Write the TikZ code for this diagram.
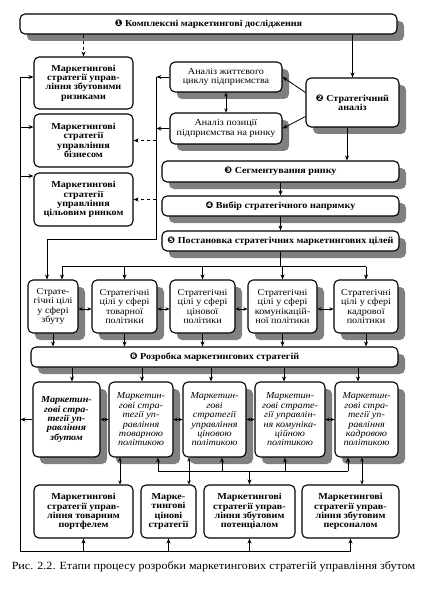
\documentclass[tikz,border=0pt]{standalone}
\usepackage{fontspec}
\setmainfont{Liberation Serif}[FakeStretch=1.1]
\newfontfamily\dejavu{DejaVu Sans}
\usetikzlibrary{arrows.meta,shadows,calc}
\newcommand\cn[1]{{\dejavu\bfseries #1}}
\begin{document}
\begin{tikzpicture}[x=1pt,y=-1pt,
  box/.style={draw, line width=1.1pt, rounded corners=5pt, fill=white, align=center, inner sep=0pt},
  sh/.style={drop shadow={shadow xshift=7pt, shadow yshift=-7pt, fill=black!50, opacity=1}},
  bt/.style={font=\fontsize{9.2}{9.4}\selectfont\bfseries},
  rt/.style={font=\fontsize{9.2}{9.4}\selectfont},
  itx/.style={font=\fontsize{9.2}{9.4}\selectfont\itshape},
  bitx/.style={font=\fontsize{9.2}{9.4}\selectfont\bfseries\itshape},
  sz/.style 2 args={minimum width=#1pt, minimum height=#2pt},
  arr/.style={line width=0.8pt, -{Stealth[length=5pt,width=4pt]}},
  darr/.style={line width=0.8pt, {Stealth[length=4pt,width=3.5pt]}-{Stealth[length=4pt,width=3.5pt]}},
  ln/.style={line width=0.8pt}]
\useasboundingbox (0,0) rectangle (420,596);

% top row
\node[box,sh,bt,sz={377}{20}] (K1) at (208.5,24) {\cn{❶} Комплексні маркетингові дослідження};
\node[box,bt,sz={99}{52}] (R1) at (83.5,83) {Маркетингові\\стратегії управ-\\ління збутовими\\ризиками};
\node[box,bt,sz={99}{53}] (R2) at (83.5,140.5) {Маркетингові\\стратегії\\управління\\бізнесом};
\node[box,bt,sz={99}{53}] (R3) at (83.5,199.5) {Маркетингові\\стратегії\\управління\\цільовим ринком};
\node[box,sh,rt,sz={112}{30}] (A1) at (226,77) {Аналіз життєвого\\циклу підприємства};
\node[box,sh,rt,sz={112}{31}] (A2) at (226,128.5) {Аналіз позиції\\підприємства на ринку};
\node[box,sh,bt,sz={93}{49}] (SA) at (352.5,102.5) {\cn{❷} Стратегічний\\аналіз};
\node[box,sh,bt,sz={237}{21}] (N3) at (280.5,171.5) {\cn{❸} Сегментування ринку};
\node[box,sh,bt,sz={237}{20}] (N4) at (280.5,206) {\cn{❹} Вибір стратегічного напрямку};
\node[box,sh,bt,sz={237}{20}] (N5) at (280.5,241) {\cn{❺} Постановка стратегічних маркетингових цілей};

% goals
\node[box,sh,rt,sz={50}{53}] (G1) at (53,306.5) {Страте-\\гічні цілі\\у сфері\\збуту};
\node[box,sh,rt,sz={65}{53}] (G2) at (124.5,306.5) {Стратегічні\\цілі у сфері\\товарної\\політики};
\node[box,sh,rt,sz={65}{53}] (G3) at (202.5,306.5) {Стратегічні\\цілі у сфері\\цінової\\політики};
\node[box,sh,rt,sz={69}{53}] (G4) at (282.5,306.5) {Стратегічні\\цілі у сфері\\комунікацій-\\ної політики};
\node[box,sh,rt,sz={64}{53}] (G5) at (366,306.5) {Стратегічні\\цілі у сфері\\кадрової\\політики};

\node[box,sh,bt,sz={367}{20}] (N6) at (214.5,357) {\cn{❻} Розробка маркетингових стратегій};

% strategies
\node[box,sh,bitx,sz={67}{75}] (S1) at (66.5,419.5) {Маркетин-\\гові стра-\\тегії уп-\\равління\\збутом};
\node[box,sh,itx,sz={64}{75}] (S2) at (141,419.5) {Маркетин-\\гові стра-\\тегії уп-\\равління\\товарною\\політикою};
\node[box,sh,itx,sz={63}{75}] (S3) at (214.5,419.5) {Маркетин-\\гові\\стратегії\\управління\\ціновою\\політикою};
\node[box,sh,itx,sz={70}{75}] (S4) at (290,419.5) {Маркетин-\\гові страте-\\гії управлін-\\ня комуніка-\\ційною\\політикою};
\node[box,sh,itx,sz={63}{75}] (S5) at (366.5,419.5) {Маркетин-\\гові стра-\\тегії уп-\\равління\\кадровою\\політикою};

% bottom
\node[box,bt,sz={99}{53}] (B1) at (83.5,511.5) {Маркетингові\\стратегії управ-\\ління товарним\\портфелем};
\node[box,bt,sz={55}{53}] (B2) at (168.5,511.5) {Марке-\\тингові\\цінові\\стратегії};
\node[box,bt,sz={91}{53}] (B3) at (249.5,511.5) {Маркетингові\\стратегії управ-\\ління збутовим\\потенціалом};
\node[box,bt,sz={97}{53}] (B4) at (350.5,511.5) {Маркетингові\\стратегії управ-\\ління збутовим\\персоналом};

\node[font=\fontsize{11}{12}\selectfont] (cap) at (213.5,567) {Рис. 2.2. Етапи процесу розробки маркетингових стратегій управління збутом};

% connectors top
\draw[arr,dashed] (R1.north |- K1.south) -- (R1.north);
\draw[arr] (SA.north |- K1.south) -- (SA.north);
\draw[arr] ($(SA.west)+(0,-10)$) -- (A1.east);
\draw[arr] ($(SA.west)+(0,14)$) -- (A2.east);
\draw[darr] (A1.south) -- (A2.north);

\coordinate (vA) at ($(A1.west)+(-13,0)$);
\draw[arr] (A1.west) -- (vA);
\draw[arr] (A2.west) -- (vA |- A2.west);
\coordinate (turn) at ($(vA)+(0,162)$);
\coordinate (g1a) at ($(G1.north)+(-6,0)$);
\draw[arr] (vA) -- (turn) -| (g1a);
\draw[arr,dashed] (vA |- R2.east) -- (R2.east);
\draw[arr,dashed] (vA |- R3.east) -- (R3.east);

% left loop
\coordinate (Lt) at ($(R1.west)+(-13,-6)$);
\coordinate (bb) at ($(B1.south)+(0,13)$);
\coordinate (Lb) at (Lt |- bb);
\draw[ln] (Lt) -- (Lb) -- (Lb -| B4.south);
\draw[arr] (Lt) -- (Lt -| R1.west);
\coordinate (r2a) at ($(R2.west)+(0,-13.5)$);
\draw[arr] (Lt |- r2a) -- (r2a);
\coordinate (r3a) at ($(R3.west)+(0,-23.5)$);
\draw[arr] (Lt |- r3a) -- (r3a);
\draw[arr] (S1.west) -- (Lt |- S1.west);
\foreach \b in {B1,B2,B3,B4} \draw[arr] (Lb -| \b.south) -- (\b.south);

% main chain
\coordinate (sa3) at ($(SA.south)+(-5.5,0)$);
\draw[arr] (sa3) -- (sa3 |- N3.north);
\draw[arr] (N3.south) -- (N4.north);
\draw[arr] (N4.south) -- (N5.north);
\coordinate (br) at ($(N5.south)+(0,15)$);
\coordinate (g1b) at ($(G1.north)+(9,0)$);
\draw[ln] (N5.south) -- (br);
\draw[ln] (g1b |- br) -- (G5.north |- br);
\foreach \g in {g1b, G2.north, G3.north, G4.north, G5.north} \draw[arr] (\g |- br) -- (\g);
\foreach \a/\b in {G1/G2,G2/G3,G3/G4,G4/G5} \draw[darr] ([yshift=-2.5pt]\a.east) -- ([yshift=-2.5pt]\b.west);
\foreach \g in {G1,G2,G3,G4,G5} \draw[arr] (\g.south) -- (\g.south |- N6.north);

% N6 to strategies
\coordinate (s1t) at ($(S1.north)+(5.5,0)$);
\coordinate (s2t) at ($(S2.north)+(1,0)$);
\coordinate (s3t) at ($(S3.north)+(-3.5,0)$);
\coordinate (s4t) at ($(S4.north)+(-6,0)$);
\coordinate (s5t) at ($(S5.north)+(-8.5,0)$);
\foreach \s in {s1t,s2t,s3t,s4t,s5t} \draw[arr] (\s |- N6.south) -- (\s);
\foreach \a/\b in {S1/S2,S2/S3,S3/S4,S4/S5} \draw[darr] (\a.east) -- (\b.west);

% strategies to bottom
\coordinate (d1) at ($(S2.south)+(-21,0)$);
\draw[darr] (d1) -- (d1 |- B1.north);
\coordinate (d2) at ($(S3.south)+(-25.5,0)$);
\draw[darr] (d2) -- (d2 |- B2.north);
\coordinate (d3) at ($(S5.south)+(-4.5,0)$);
\draw[darr] (d3) -- (d3 |- B4.north);
\coordinate (u2) at ($(S2.south)+(17,0)$);
\coordinate (u3) at ($(S3.south)+(7.5,0)$);
\coordinate (u4) at ($(S4.south)+(-5,0)$);
\coordinate (u5) at ($(S5.south)+(-18.5,0)$);
\coordinate (bus) at ($(u2)+(0,13.5)$);
\draw[ln] (bus) -- (bus -| u5);
\foreach \u in {u2,u3,u4,u5} \draw[arr] (\u |- bus) -- (\u);
\draw[arr] (B3.north |- bus) -- (B3.north);
\end{tikzpicture}
\end{document}
